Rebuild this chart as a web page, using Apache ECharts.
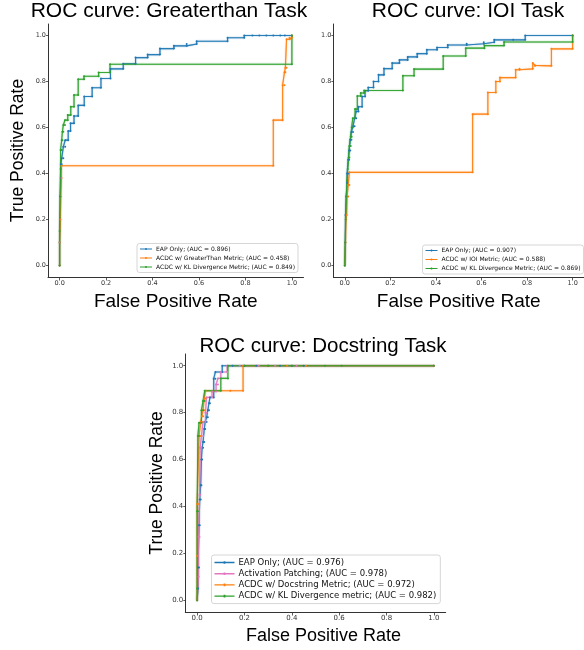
<!DOCTYPE html>
<html>
<head>
<meta charset="utf-8">
<script src="https://cdn.jsdelivr.net/npm/echarts@6/dist/echarts.min.js"></script>
<style>html,body{margin:0;padding:0;background:#fff;}#c{width:584px;height:650px;}</style>
</head>
<body>
<div id="c"></div>
<script>
// ---- tick labels ----
const tickValues = [0, 0.2, 0.4, 0.6, 0.8, 1.0];
const tickLabels = ['0.0', '0.2', '0.4', '0.6', '0.8', '1.0'];

// ---- titles / names ----
const titles = ['ROC curve: Greaterthan Task', 'ROC curve: IOI Task', 'ROC curve: Docstring Task'];
const gtNames = ['EAP Only; (AUC = 0.896)', 'ACDC w/ GreaterThan Metric; (AUC = 0.458)', 'ACDC w/ KL Divergence Metric; (AUC = 0.849)'];
const ioiNames = ['EAP Only; (AUC = 0.907)', 'ACDC w/ IOI Metric; (AUC = 0.588)', 'ACDC w/ KL Divergence Metric; (AUC = 0.869)'];
const docNames = ['EAP Only; (AUC = 0.976)', 'Activation Patching; (AUC = 0.978)', 'ACDC w/ Docstring Metric; (AUC = 0.972)', 'ACDC w/ KL Divergence metric; (AUC = 0.982)'];

// ---- Greaterthan task: [FPR, TPR] ----
const gtEap = [[0,0],[0,0.1],[0.002,0.2],[0.003,0.3],[0.005,0.38],[0.005,0.44],[0.009,0.44],[0.009,0.466],[0.016,0.466],[0.016,0.516],[0.024,0.516],[0.024,0.545],[0.037,0.545],[0.037,0.585],[0.047,0.585],[0.047,0.618],[0.062,0.618],[0.062,0.65],[0.08,0.65],[0.08,0.696],[0.106,0.696],[0.106,0.735],[0.14,0.735],[0.14,0.773],[0.178,0.773],[0.178,0.813],[0.219,0.813],[0.219,0.855],[0.274,0.855],[0.274,0.877],[0.327,0.877],[0.327,0.904],[0.379,0.904],[0.379,0.917],[0.432,0.917],[0.432,0.943],[0.492,0.943],[0.492,0.955],[0.547,0.955],[0.547,0.963],[0.59,0.963],[0.59,0.975],[0.723,0.975],[0.723,0.99],[0.795,0.99],[0.795,1.0],[0.83,1.0],[0.86,1.0],[0.89,1.0],[0.92,1.0],[0.95,1.0],[0.97,1.0],[1.0,1.0]];
const gtAcdc = [[0,0],[0,0.1],[0.003,0.2],[0.005,0.3],[0.008,0.38],[0.008,0.434],[0.92,0.434],[0.92,0.632],[0.96,0.632],[0.96,0.784],[0.968,0.784],[0.968,0.84],[0.972,0.84],[0.972,0.86],[0.977,0.86],[0.977,0.984],[0.99,0.984],[0.99,0.99],[1.0,0.99],[1.0,1.0]];
const gtKl = [[0,0],[0,0.15],[0.002,0.3],[0.004,0.42],[0.004,0.502],[0.009,0.502],[0.009,0.545],[0.012,0.545],[0.012,0.582],[0.016,0.582],[0.016,0.611],[0.023,0.611],[0.023,0.632],[0.035,0.632],[0.035,0.654],[0.048,0.654],[0.048,0.69],[0.062,0.69],[0.062,0.741],[0.08,0.741],[0.08,0.81],[0.105,0.81],[0.105,0.823],[0.168,0.823],[0.168,0.839],[0.217,0.839],[0.217,0.875],[1.0,0.875],[1.0,1.0]];

// ---- IOI task ----
const ioiEap = [[0,0],[0.002,0.1],[0.003,0.22],[0.006,0.3],[0.01,0.36],[0.01,0.4],[0.015,0.4],[0.015,0.46],[0.019,0.46],[0.019,0.5],[0.024,0.5],[0.024,0.547],[0.029,0.547],[0.029,0.58],[0.036,0.58],[0.036,0.605],[0.043,0.605],[0.043,0.64],[0.05,0.64],[0.05,0.67],[0.06,0.67],[0.06,0.69],[0.076,0.69],[0.076,0.735],[0.089,0.735],[0.089,0.76],[0.103,0.76],[0.103,0.774],[0.126,0.774],[0.126,0.8],[0.148,0.8],[0.148,0.829],[0.172,0.829],[0.172,0.856],[0.208,0.856],[0.208,0.88],[0.24,0.88],[0.24,0.894],[0.276,0.894],[0.276,0.907],[0.318,0.907],[0.318,0.921],[0.36,0.921],[0.36,0.938],[0.405,0.938],[0.405,0.948],[0.452,0.948],[0.452,0.959],[0.535,0.959],[0.535,0.964],[0.61,0.964],[0.61,0.971],[0.656,0.971],[0.656,0.981],[0.739,0.981],[0.792,0.981],[0.792,1.0],[1.0,1.0]];
const ioiAcdc = [[0,0],[0.003,0.1],[0.005,0.2],[0.008,0.22],[0.01,0.3],[0.015,0.3],[0.015,0.35],[0.02,0.35],[0.02,0.405],[0.561,0.405],[0.561,0.658],[0.628,0.658],[0.628,0.752],[0.663,0.752],[0.663,0.8],[0.681,0.8],[0.681,0.817],[0.75,0.817],[0.75,0.851],[0.767,0.851],[0.767,0.855],[0.825,0.855],[0.825,0.88],[0.835,0.87],[0.835,0.868],[0.907,0.868],[0.907,0.942],[1.0,0.942],[1.0,1.0]];
const ioiKl = [[0,0],[0.002,0.1],[0.004,0.2],[0.007,0.3],[0.01,0.37],[0.013,0.42],[0.017,0.47],[0.02,0.47],[0.02,0.52],[0.026,0.52],[0.026,0.56],[0.03,0.56],[0.03,0.6],[0.035,0.6],[0.035,0.64],[0.045,0.64],[0.045,0.68],[0.055,0.68],[0.055,0.737],[0.07,0.737],[0.07,0.75],[0.085,0.75],[0.085,0.761],[0.255,0.761],[0.255,0.825],[0.304,0.825],[0.304,0.854],[0.432,0.854],[0.432,0.911],[0.531,0.911],[0.531,0.945],[0.613,0.945],[0.613,0.956],[0.699,0.956],[0.699,0.972],[1.0,0.972],[1.0,1.0]];

// ---- Docstring task ----
const docEap = [[0,0],[0.004,0.05],[0.004,0.14],[0.008,0.14],[0.008,0.32],[0.011,0.32],[0.011,0.43],[0.015,0.43],[0.015,0.49],[0.018,0.49],[0.018,0.6],[0.021,0.6],[0.021,0.65],[0.025,0.65],[0.025,0.675],[0.03,0.675],[0.03,0.73],[0.034,0.73],[0.034,0.76],[0.04,0.76],[0.04,0.78],[0.045,0.78],[0.045,0.81],[0.05,0.81],[0.05,0.84],[0.054,0.84],[0.054,0.865],[0.07,0.865],[0.07,0.945],[0.077,0.945],[0.077,0.973],[0.106,0.973],[0.106,1.0],[0.15,1.0],[0.2,1.0],[0.25,1.0],[0.3,1.0],[0.35,1.0],[0.4,1.0],[0.45,1.0],[1.0,1.0]];
const docAp = [[0,0],[0.006,0.1],[0.006,0.27],[0.01,0.27],[0.01,0.45],[0.013,0.45],[0.013,0.65],[0.018,0.65],[0.018,0.7],[0.025,0.7],[0.025,0.76],[0.035,0.76],[0.035,0.8],[0.04,0.8],[0.04,0.865],[0.063,0.865],[0.063,0.89],[0.08,0.89],[0.08,0.92],[0.088,0.92],[0.088,0.946],[0.1,0.946],[0.1,0.973],[0.127,0.973],[0.127,1.0],[0.18,1.0],[0.26,1.0],[0.33,1.0],[0.42,1.0],[1.0,1.0]];
const docAcdc = [[0,0],[0,0.19],[0,0.41],[0.004,0.41],[0.008,0.7],[0.015,0.7],[0.015,0.76],[0.02,0.76],[0.02,0.785],[0.025,0.785],[0.025,0.81],[0.03,0.81],[0.03,0.86],[0.035,0.86],[0.035,0.893],[0.14,0.893],[0.194,0.893],[0.194,1.0],[0.3,1.0],[0.38,1.0],[0.46,1.0],[1.0,1.0]];
const docKl = [[0,0],[0,0.05],[0,0.38],[0.003,0.38],[0.003,0.7],[0.008,0.7],[0.008,0.757],[0.018,0.757],[0.018,0.81],[0.025,0.81],[0.025,0.85],[0.032,0.85],[0.032,0.893],[0.1,0.893],[0.1,0.946],[0.13,0.946],[0.13,1.0],[0.2,1.0],[0.3,1.0],[0.4,1.0],[0.54,1.0],[0.61,1.0],[1.0,1.0]];

const C_BLUE = '#1f77b4', C_ORANGE = '#ff7f0e', C_GREEN = '#2ca02c', C_PINK = '#e377c2';

const iconSmall = 'path://M0,0 L0.01,0 L0,0.01 Z M12,7 L11.99,7 L12,6.99 Z M0,2.9 L12,2.9 L12,4.1 L0,4.1 Z M5.3,2.4 L6.7,2.4 L6.7,4.6 L5.3,4.6 Z';
const iconBig = 'path://M0,0 L0.01,0 L0,0.01 Z M20,9 L19.99,9 L20,8.99 Z M0,3.8 L20,3.8 L20,5.2 L0,5.2 Z M9.1,3.2 L10.9,3.2 L10.9,5.8 L9.1,5.8 Z';

function fmt(v) {
  const i = Math.round(v * 5);
  return tickLabels[i] !== undefined ? tickLabels[i] : '';
}

function xAxisCfg(gi, name, fs, gap, pad, lfs) {
  return {
    type: 'value', gridIndex: gi, min: -0.05, max: 1.05,
    name: name, nameLocation: 'middle', nameGap: gap,
    nameTextStyle: { fontFamily: 'Liberation Sans', fontSize: fs, color: '#000', padding: pad },
    axisLine: { show: true, onZero: false, lineStyle: { color: '#333', width: 1 } },
    axisTick: { show: true, length: 3.5, customValues: tickValues, lineStyle: { color: '#333', width: 0.8 } },
    axisLabel: { customValues: tickValues, formatter: fmt, fontFamily: 'DejaVu Sans', fontSize: lfs, color: '#333', margin: 3 },
    splitLine: { show: false }
  };
}
function yAxisCfg(gi, name, fs, gap, lfs) {
  return {
    type: 'value', gridIndex: gi, min: -0.05, max: 1.05,
    name: name, nameLocation: 'middle', nameGap: gap,
    nameTextStyle: { fontFamily: 'Liberation Sans', fontSize: fs, color: '#000' },
    axisLine: { show: true, onZero: false, lineStyle: { color: '#333', width: 1 } },
    axisTick: { show: true, length: 2, customValues: tickValues, lineStyle: { color: '#333', width: 0.8 } },
    axisLabel: { customValues: tickValues, formatter: fmt, fontFamily: 'DejaVu Sans', fontSize: lfs, color: '#333', margin: 2 },
    splitLine: { show: false }
  };
}
function lineSeries(name, data, color, gi) {
  return {
    type: 'line', name: name, data: data, xAxisIndex: gi, yAxisIndex: gi,
    color: color, symbol: 'circle', symbolSize: 2, showSymbol: true, animation: false,
    lineStyle: { width: 1.1, color: color, shadowColor: color, shadowBlur: 1.2, opacity: 0.85 },
    itemStyle: { color: color, borderWidth: 0 },
    emphasis: { disabled: true }, silent: true
  };
}
function legendCfg(names, left, top, small) {
  return {
    orient: 'vertical', left: left, top: top, data: names, selectedMode: false,
    icon: small ? iconSmall : iconBig,
    itemWidth: small ? 12 : 20, itemHeight: small ? 7 : 9, itemGap: small ? 2 : 2.2,
    padding: small ? [2, 3, 2, 3] : [3, 4, 3, 3],
    itemStyle: { borderWidth: 0 },
    textStyle: { fontFamily: 'DejaVu Sans', fontSize: small ? 6 : 8.5, color: '#111', padding: [0, 0, 0, -1] },
    borderColor: '#cccccc', borderWidth: 0.8, borderRadius: 2.5,
    backgroundColor: 'rgba(255,255,255,0.85)'
  };
}
const titleStyle = (fs) => ({ fontFamily: 'Liberation Sans', fontSize: fs, fontWeight: 'normal', color: '#000' });

const chart = echarts.init(document.getElementById('c'), null, { renderer: 'canvas' });
chart.setOption({
  backgroundColor: '#fff',
  animation: false,
  title: [
    { text: titles[0], left: 169, top: 1, textAlign: 'center', padding: 0, textStyle: titleStyle(21) },
    { text: titles[1], left: 468, top: 1, textAlign: 'center', padding: 0, textStyle: titleStyle(21) },
    { text: titles[2], left: 323, top: 336, textAlign: 'center', padding: 0, textStyle: titleStyle(20.5) }
  ],
  grid: [
    { left: 48, top: 24, width: 255.5, height: 253, containLabel: false },
    { left: 333.4, top: 24, width: 255.5, height: 253, containLabel: false },
    { left: 185.3, top: 354, width: 260.4, height: 258, containLabel: false }
  ],
  xAxis: [
    xAxisCfg(0, 'False Positive Rate', 19, 15, [0, 0, 0, 0], 6.5),
    xAxisCfg(1, 'False Positive Rate', 19, 15, [0, 0, 0, 0], 6.5),
    xAxisCfg(2, 'False Positive Rate', 18, 15, [0, 0, 0, 16], 7)
  ],
  yAxis: [
    yAxisCfg(0, 'True Positive Rate', 17.5, 21, 6.5),
    yAxisCfg(1, '', 17.5, 20, 6.5),
    yAxisCfg(2, 'True Positive Rate', 17.5, 19, 7)
  ],
  legend: [
    legendCfg(gtNames, 137, 243.5, true),
    legendCfg(ioiNames, 422.5, 245, true),
    legendCfg(docNames, 211.5, 555, false)
  ],
  series: [
    lineSeries(gtNames[0], gtEap, C_BLUE, 0),
    lineSeries(gtNames[1], gtAcdc, C_ORANGE, 0),
    lineSeries(gtNames[2], gtKl, C_GREEN, 0),
    lineSeries(ioiNames[0], ioiEap, C_BLUE, 1),
    lineSeries(ioiNames[1], ioiAcdc, C_ORANGE, 1),
    lineSeries(ioiNames[2], ioiKl, C_GREEN, 1),
    lineSeries(docNames[0], docEap, C_BLUE, 2),
    lineSeries(docNames[1], docAp, C_PINK, 2),
    lineSeries(docNames[2], docAcdc, C_ORANGE, 2),
    lineSeries(docNames[3], docKl, C_GREEN, 2)
  ]
});
</script>
</body>
</html>
